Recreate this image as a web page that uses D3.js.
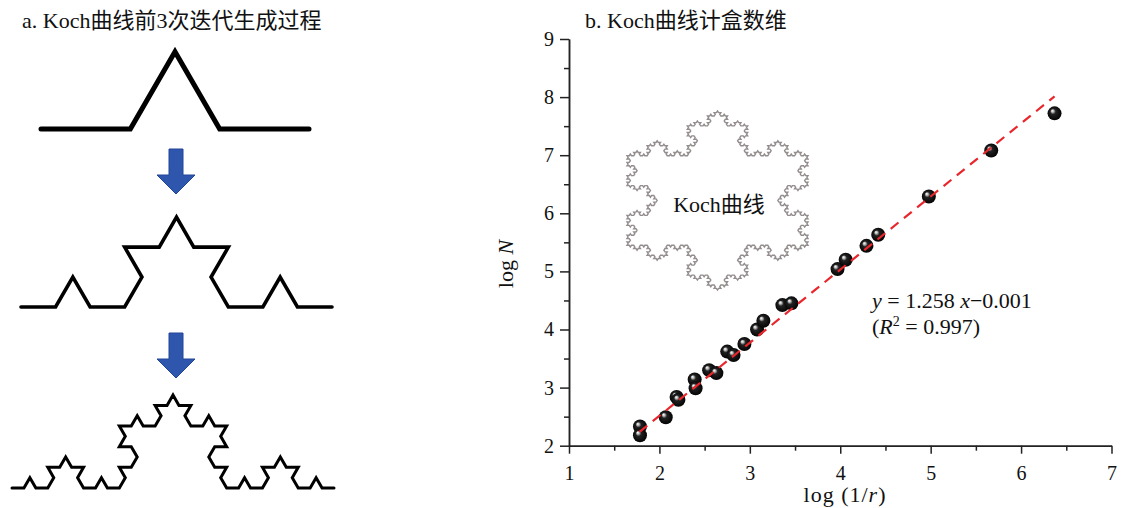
<!DOCTYPE html>
<html>
<head>
<meta charset="utf-8">
<title>Koch curve box-counting dimension</title>
<script src="https://cdn.jsdelivr.net/npm/d3@7"></script>
<style>
  body { margin: 0; background: #fff; }
  svg text { font-family: "Liberation Serif", "Noto Sans CJK SC", serif; fill: #111; }
  .axis path, .axis line { stroke: #222; stroke-width: 1.5; }
  .axis text { font-size: 20px; fill: #111; }
</style>
</head>
<body>
<script>
// box counting results
var logInvR = [1.785, 1.785, 2.07, 2.19, 2.21, 2.39, 2.40, 2.55, 2.63, 2.75, 2.82, 2.94,
               3.08, 3.15, 3.36, 3.46, 3.97, 4.06, 4.29, 4.42, 4.98, 5.67, 6.37];
var logN    = [2.33, 2.18, 2.49, 2.84, 2.79, 3.14, 2.99, 3.30, 3.25, 3.62, 3.56, 3.75,
               4.00, 4.15, 4.42, 4.45, 5.04, 5.20, 5.44, 5.63, 6.29, 7.08, 7.72];
// fitted line y = 1.258 x - 0.001
var fitSlope = 1.258;
var fitIntercept = -0.001;
var fitRange = [1.78, 6.37];
var xTicks = [1, 2, 3, 4, 5, 6, 7];
var yTicks = [2, 3, 4, 5, 6, 7, 8, 9];
// iterations shown in panel a, and the inset snowflake level
var kochLevels = [1, 2, 3];
var insetLevel = 4;

var width = 1121, height = 508;
var svg = d3.select("body").append("svg")
    .attr("width", width)
    .attr("height", height);

var defs = svg.append("defs");
var grad = defs.append("radialGradient")
    .attr("id", "ball")
    .attr("cx", "50%").attr("cy", "50%").attr("r", "55%")
    .attr("fx", "33%").attr("fy", "30%");
grad.append("stop").attr("offset", "0%").attr("stop-color", "#ffffff");
grad.append("stop").attr("offset", "16%").attr("stop-color", "#bdbdbd");
grad.append("stop").attr("offset", "36%").attr("stop-color", "#222");
grad.append("stop").attr("offset", "100%").attr("stop-color", "#000");

// koch subdivision in unit coords, bumps go to the left of travel direction (y up)
function kochSegment(a, b, n, out) {
  if (n == 0) { out.push(b); return; }
  var dx = (b[0] - a[0]) / 3, dy = (b[1] - a[1]) / 3;
  var p1 = [a[0] + dx, a[1] + dy];
  var p3 = [a[0] + 2 * dx, a[1] + 2 * dy];
  var c = Math.cos(Math.PI / 3), s = Math.sin(Math.PI / 3);
  var p2 = [p1[0] + dx * c - dy * s, p1[1] + dx * s + dy * c];
  kochSegment(a, p1, n - 1, out);
  kochSegment(p1, p2, n - 1, out);
  kochSegment(p2, p3, n - 1, out);
  kochSegment(p3, b, n - 1, out);
}
function kochCurve(n) {
  var pts = [[0, 0]];
  kochSegment([0, 0], [1, 0], n, pts);
  return pts;
}

// ---------- panel a ----------
svg.append("text")
    .attr("x", 22).attr("y", 28)
    .style("font-size", "22px")
    .text("a. Koch曲线前3次迭代生成过程");

var levelBox = [
  {x0: 41, x1: 309, base: 129, sw: 5},
  {x0: 21, x1: 332, base: 307, sw: 3.6},
  {x0: 12, x1: 334, base: 488, sw: 3}
];

kochLevels.forEach(function(lv, i) {
  var b = levelBox[i];
  var sx = d3.scaleLinear().domain([0, 1]).range([b.x0, b.x1]);
  var sy = d3.scaleLinear().domain([0, 1]).range([b.base, b.base - (b.x1 - b.x0)]);
  var line = d3.line().x(function(d) { return sx(d[0]); }).y(function(d) { return sy(d[1]); });
  svg.append("path")
      .attr("d", line(kochCurve(lv)))
      .attr("fill", "none")
      .attr("stroke", "#000")
      .attr("stroke-width", b.sw)
      .attr("stroke-linejoin", "miter")
      .attr("stroke-linecap", "round");
});

// blue arrows between the iterations
var arrowShape = [[-7, 0], [7, 0], [7, 26], [19, 26], [0, 45], [-19, 26], [-7, 26]];
[{x: 176, y: 149}, {x: 176, y: 333}].forEach(function(a) {
  svg.append("path")
      .attr("d", d3.line()(arrowShape.map(function(p) { return [a.x + p[0], a.y + p[1]]; })) + "Z")
      .attr("fill", "#2f56ad")
      .attr("stroke", "#23449a")
      .attr("stroke-width", 1);
});

// ---------- panel b ----------
var x = d3.scaleLinear().domain([1, 7]).range([569, 1111.5]);
var y = d3.scaleLinear().domain([2, 9]).range([445.7, 39]);

svg.append("text")
    .attr("x", 585).attr("y", 28)
    .style("font-size", "22px")
    .text("b. Koch曲线计盒数维");

// minor ticks
svg.append("g")
    .attr("class", "axis")
    .attr("transform", "translate(0," + y(2) + ")")
    .call(d3.axisBottom(x).tickValues(d3.range(1.5, 7, 1)).tickSize(5).tickSizeOuter(0).tickFormat(""));
svg.append("g")
    .attr("class", "axis")
    .attr("transform", "translate(" + x(1) + ",0)")
    .call(d3.axisLeft(y).tickValues(d3.range(2.5, 9, 1)).tickSize(5).tickSizeOuter(0).tickFormat(""));

// major ticks
svg.append("g")
    .attr("class", "axis")
    .attr("transform", "translate(0," + y(2) + ")")
    .call(d3.axisBottom(x).tickValues(xTicks).tickSize(8).tickSizeOuter(0).tickPadding(12).tickFormat(d3.format("d")));
svg.append("g")
    .attr("class", "axis")
    .attr("transform", "translate(" + x(1) + ",0)")
    .call(d3.axisLeft(y).tickValues(yTicks).tickSize(9).tickSizeOuter(0).tickPadding(6).tickFormat(d3.format("d")));

// axis titles
var xt = svg.append("text")
    .attr("x", 845).attr("y", 502)
    .attr("text-anchor", "middle")
    .style("font-size", "22px")
    .style("letter-spacing", "1px");
xt.append("tspan").text("log (1/");
xt.append("tspan").style("font-style", "italic").text("r");
xt.append("tspan").text(")");

var yt = svg.append("text")
    .attr("transform", "translate(513,264) rotate(-90)")
    .attr("text-anchor", "middle")
    .style("font-size", "22px");
yt.append("tspan").text("log ");
yt.append("tspan").style("font-style", "italic").text("N");

// inset snowflake
var flake = [];
var tri = [90, -30, 210, 90].map(function(a) {
  return [Math.cos(a * Math.PI / 180), Math.sin(a * Math.PI / 180)];
});
flake.push(tri[0]);
for (var k = 0; k < 3; k++) kochSegment(tri[k], tri[k + 1], insetLevel, flake);
var fx = d3.scaleLinear().domain(d3.extent(flake, function(d) { return d[0]; })).range([627, 808]);
var fy = d3.scaleLinear().domain(d3.extent(flake, function(d) { return d[1]; })).range([290, 111]);
svg.append("path")
    .attr("d", d3.line().x(function(d) { return fx(d[0]); }).y(function(d) { return fy(d[1]); })(flake) + "Z")
    .attr("fill", "none")
    .attr("stroke", "#948d8d")
    .attr("stroke-width", 1.4);
svg.append("text")
    .attr("x", 719).attr("y", 212)
    .attr("text-anchor", "middle")
    .style("font-size", "22px")
    .text("Koch曲线");

// points
svg.selectAll(".pt")
    .data(logInvR)
    .enter()
    .append("circle")
    .attr("class", "pt")
    .attr("cx", function(d) { return x(d); })
    .attr("cy", function(d, i) { return y(logN[i]); })
    .attr("r", 7)
    .attr("fill", "url(#ball)");

// fitted line, drawn over the points
svg.append("path")
    .attr("d", d3.line()
        .x(function(d) { return x(d); })
        .y(function(d) { return y(fitSlope * d + fitIntercept); })(fitRange))
    .attr("fill", "none")
    .attr("stroke", "#e8262b")
    .attr("stroke-width", 2.2)
    .attr("stroke-dasharray", "10,7");

// equation
var eq1 = svg.append("text").attr("x", 872).attr("y", 308).style("font-size", "22px");
eq1.append("tspan").style("font-style", "italic").text("y");
eq1.append("tspan").text(" = 1.258 ");
eq1.append("tspan").style("font-style", "italic").text("x");
eq1.append("tspan").text("\u22120.001");

var eq2 = svg.append("text").attr("x", 872).attr("y", 334).style("font-size", "22px");
eq2.append("tspan").text("(");
eq2.append("tspan").style("font-style", "italic").text("R");
eq2.append("tspan").attr("dy", -8).style("font-size", "14px").text("2");
eq2.append("tspan").attr("dy", 8).text(" = 0.997)");
</script>
</body>
</html>
